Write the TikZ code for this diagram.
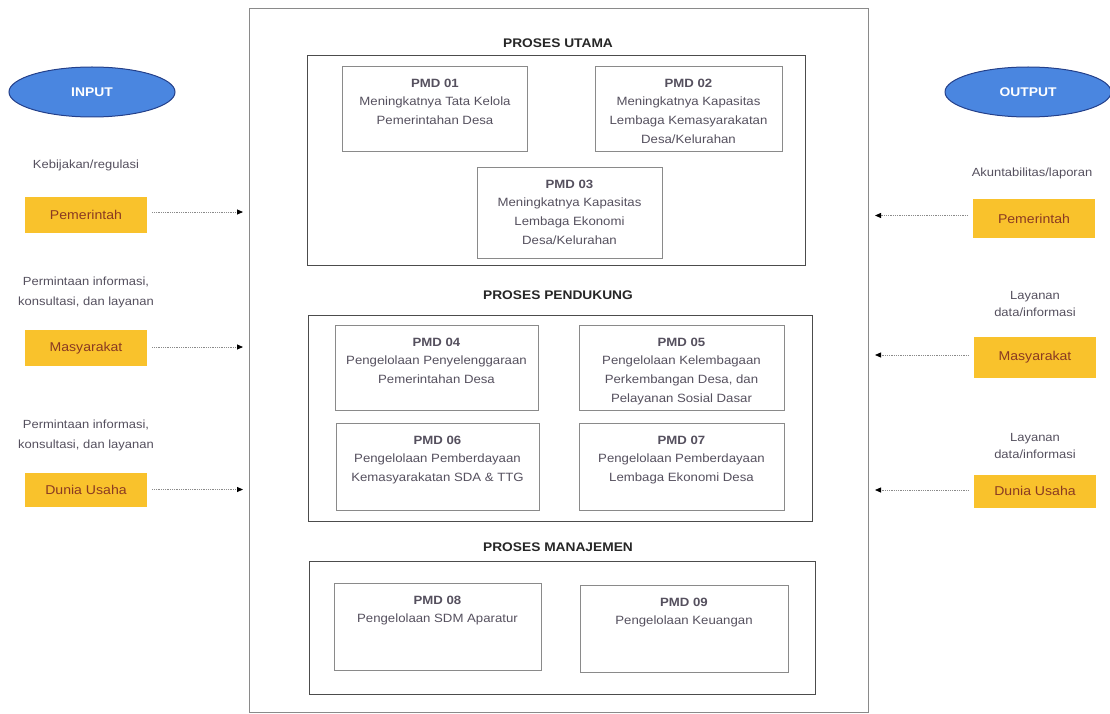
\documentclass[tikz,border=0pt]{standalone}
\usepackage{fontspec}
\setmainfont{Liberation Sans}[FakeStretch=1.1]
\usetikzlibrary{shapes.geometric,arrows.meta}
\definecolor{ybox}{HTML}{F9C22C}
\definecolor{ytxt}{HTML}{8A3A22}
\definecolor{eblue}{HTML}{4A86E0}
\definecolor{eborder}{HTML}{24408A}
\definecolor{btxt}{HTML}{55505E}
\definecolor{bline}{HTML}{8A8A8A}
\tikzset{
  outerbox/.style={draw=bline, line width=0.9pt},
  groupbox/.style={draw=black!70, line width=0.9pt},
  pmdbox/.style={draw=bline, line width=0.8pt},
  pmdtext/.style={anchor=north, align=center, font=\fontsize{12}{18.8}\selectfont, text=btxt, inner sep=0pt},
  grouptitle/.style={font=\fontsize{12.5}{15}\selectfont\bfseries, text=black!85},
  oval/.style={ellipse, draw=eborder, line width=1pt, fill=eblue, text=white, font=\fontsize{12.6}{14}\selectfont\bfseries, minimum width=166pt, minimum height=50pt, inner sep=0pt},
  actor/.style={fill=ybox, text=ytxt, font=\fontsize{12.8}{14}\selectfont, minimum width=122pt, inner sep=0pt},
  sidetextL/.style={align=center, font=\fontsize{11.8}{20}\selectfont, text=btxt},
  sidetextR/.style={align=center, font=\fontsize{11.8}{17.5}\selectfont, text=btxt},
  flow/.style={draw=bline, densely dotted, line width=0.8pt, -{Triangle[length=6pt,width=5pt,fill=black,color=black]}},
}
\begin{document}
\begin{tikzpicture}[x=1pt,y=-1pt]
\useasboundingbox (0,0) rectangle (1110,714);
% outer frame
\node[outerbox, minimum width=619pt, minimum height=704pt, inner sep=0pt] (frame) at (558.5,360) {};
% PROSES UTAMA
\node[grouptitle] (t1) at (558,43) {PROSES UTAMA};
\node[groupbox, minimum width=498pt, minimum height=210pt, inner sep=0pt] (g1) at (556,160) {};
\node[pmdbox, minimum width=185pt, minimum height=85pt, inner sep=0pt] (p1) at (435,108.5) {};
\node[pmdtext] (p1t) at ([yshift=-13pt]p1.north) {\textbf{PMD 01}\\Meningkatnya Tata Kelola\\Pemerintahan Desa};
\node[pmdbox, minimum width=187pt, minimum height=85pt, inner sep=0pt] (p2) at (688.5,108.5) {};
\node[pmdtext] (p2t) at ([yshift=-13pt]p2.north) {\textbf{PMD 02}\\Meningkatnya Kapasitas\\Lembaga Kemasyarakatan\\Desa/Kelurahan};
\node[pmdbox, minimum width=185pt, minimum height=91pt, inner sep=0pt] (p3) at (569.5,212.5) {};
\node[pmdtext] (p3t) at ([yshift=-13pt]p3.north) {\textbf{PMD 03}\\Meningkatnya Kapasitas\\Lembaga Ekonomi\\Desa/Kelurahan};
% PROSES PENDUKUNG
\node[grouptitle] (t2) at (558,295) {PROSES PENDUKUNG};
\node[groupbox, minimum width=504pt, minimum height=206pt, inner sep=0pt] (g2) at (560,418) {};
\node[pmdbox, minimum width=203pt, minimum height=85pt, inner sep=0pt] (p4) at (436.5,367.5) {};
\node[pmdtext] (p4t) at ([yshift=-13pt]p4.north) {\textbf{PMD 04}\\Pengelolaan Penyelenggaraan\\Pemerintahan Desa};
\node[pmdbox, minimum width=205pt, minimum height=85pt, inner sep=0pt] (p5) at (681.5,367.5) {};
\node[pmdtext] (p5t) at ([yshift=-13pt]p5.north) {\textbf{PMD 05}\\Pengelolaan Kelembagaan\\Perkembangan Desa, dan\\Pelayanan Sosial Dasar};
\node[pmdbox, minimum width=203pt, minimum height=87pt, inner sep=0pt] (p6) at (437.5,466.5) {};
\node[pmdtext] (p6t) at ([yshift=-13pt]p6.north) {\textbf{PMD 06}\\Pengelolaan Pemberdayaan\\Kemasyarakatan SDA \& TTG};
\node[pmdbox, minimum width=205pt, minimum height=87pt, inner sep=0pt] (p7) at (681.5,466.5) {};
\node[pmdtext] (p7t) at ([yshift=-13pt]p7.north) {\textbf{PMD 07}\\Pengelolaan Pemberdayaan\\Lembaga Ekonomi Desa};
% PROSES MANAJEMEN
\node[grouptitle] (t3) at (558,547) {PROSES MANAJEMEN};
\node[groupbox, minimum width=506pt, minimum height=133pt, inner sep=0pt] (g3) at (562,627.5) {};
\node[pmdbox, minimum width=207pt, minimum height=87pt, inner sep=0pt] (p8) at (437.5,626.5) {};
\node[pmdtext] (p8t) at ([yshift=-13pt]p8.north) {\textbf{PMD 08}\\Pengelolaan SDM Aparatur};
\node[pmdbox, minimum width=208pt, minimum height=87pt, inner sep=0pt] (p9) at (684,628.5) {};
\node[pmdtext] (p9t) at ([yshift=-13pt]p9.north) {\textbf{PMD 09}\\Pengelolaan Keuangan};
% INPUT side
\node[oval] (in) at (92,92) {INPUT};
\node[sidetextL] (il1) at (86,165) {Kebijakan/regulasi};
\node[actor, minimum height=36pt] (ia1) at (86,215) {Pemerintah};
\node[sidetextL] (il2) at (86,292) {Permintaan informasi,\\konsultasi, dan layanan};
\node[actor, minimum height=36pt] (ia2) at (86,348) {Masyarakat};
\node[sidetextL] (il3) at (86,435) {Permintaan informasi,\\konsultasi, dan layanan};
\node[actor, minimum height=34pt] (ia3) at (86,490) {Dunia Usaha};
\coordinate (ie1) at (243,212);
\coordinate (ie2) at (243,347);
\coordinate (ie3) at (243,489.5);
\draw[flow] ([xshift=5pt]ia1.east |- ie1) -- (ie1);
\draw[flow] ([xshift=5pt]ia2.east |- ie2) -- (ie2);
\draw[flow] ([xshift=5pt]ia3.east |- ie3) -- (ie3);
% OUTPUT side
\node[oval] (out) at (1028,92) {OUTPUT};
\node[sidetextR] (ol1) at (1032,173) {Akuntabilitas/laporan};
\node[actor, minimum height=39pt] (oa1) at (1034,218.5) {Pemerintah};
\node[sidetextR] (ol2) at (1035,304) {Layanan\\data/informasi};
\node[actor, minimum height=41pt] (oa2) at (1035,357.5) {Masyarakat};
\node[sidetextR] (ol3) at (1035,446) {Layanan\\data/informasi};
\node[actor, minimum height=33pt] (oa3) at (1035,491) {Dunia Usaha};
\coordinate (oe1) at (875,215.5);
\coordinate (oe2) at (875,355);
\coordinate (oe3) at (875,490);
\draw[flow] ([xshift=-5pt]oa1.west |- oe1) -- (oe1);
\draw[flow] ([xshift=-5pt]oa2.west |- oe2) -- (oe2);
\draw[flow] ([xshift=-5pt]oa3.west |- oe3) -- (oe3);
\end{tikzpicture}
\end{document}
